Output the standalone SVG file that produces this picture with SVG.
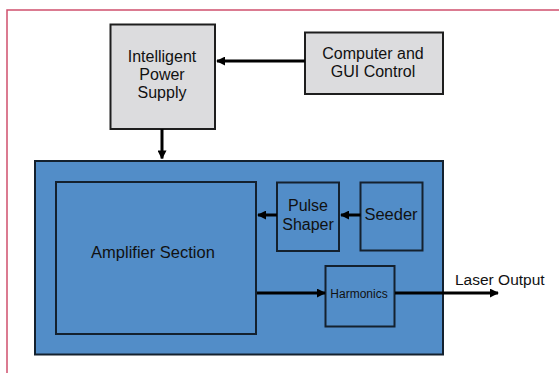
<svg xmlns="http://www.w3.org/2000/svg" width="559" height="373" viewBox="0 0 559 373">
<style>
.gray{fill:#dcdcde;stroke:#1e1e1e;stroke-width:2}
.blue{fill:#528dc8;stroke:#14212e;stroke-width:2}
.t{font-family:"Liberation Sans",Arial,sans-serif;font-size:16px;fill:#111;text-anchor:middle}
.s{font-size:12px}
.c{stroke:#000;stroke-width:3;fill:none}
</style>
<defs>
<marker id="ah" viewBox="0 0 10 10" refX="9" refY="5" markerWidth="3" markerHeight="3" orient="auto" markerUnits="strokeWidth">
<path d="M0,0 L10,5 L0,10 Z" fill="#000"/>
</marker>
</defs>
<rect width="559" height="373" fill="#fff"/>
<path d="M7,373 V10 H559" fill="none" stroke="#d0506e" stroke-width="1.5"/>
<g id="psu">
<rect class="gray" x="110.5" y="24.5" width="104.5" height="104.5"/>
<text class="t" x="162" y="62">Intelligent</text>
<text class="t" x="162" y="80">Power</text>
<text class="t" x="162" y="98">Supply</text>
</g>
<g id="computer">
<rect class="gray" x="305" y="32.5" width="138" height="61.5"/>
<text class="t" x="373" y="59">Computer and</text>
<text class="t" x="373" y="77">GUI Control</text>
</g>
<g id="laser">
<rect class="blue" x="35" y="161" width="408" height="193.5"/>
</g>
<g id="amplifier">
<rect class="blue" x="56" y="182" width="200" height="152"/>
<text class="t" x="153" y="258" style="font-size:16.5px">Amplifier Section</text>
</g>
<g id="pulse">
<rect class="blue" x="277" y="182.5" width="62" height="68.5"/>
<text class="t" x="308" y="211">Pulse</text>
<text class="t" x="308" y="230">Shaper</text>
</g>
<g id="seeder">
<rect class="blue" x="360.5" y="182.5" width="62" height="68"/>
<text class="t" x="391" y="220" style="font-size:16.5px">Seeder</text>
</g>
<g id="harmonics">
<rect class="blue" x="325.5" y="266" width="69" height="60.5"/>
<text class="t s" x="359" y="298">Harmonics</text>
</g>
<text class="t" x="455" y="285" style="text-anchor:start;font-size:15.5px">Laser Output</text>
<g id="connectors">
<line class="c" x1="305" y1="61" x2="217" y2="61" marker-end="url(#ah)"/>
<line class="c" x1="162" y1="129" x2="162" y2="158.5" marker-end="url(#ah)"/>
<line class="c" x1="277" y1="215" x2="258" y2="215" marker-end="url(#ah)"/>
<line class="c" x1="360.5" y1="215" x2="341" y2="215" marker-end="url(#ah)"/>
<line class="c" x1="257" y1="293" x2="325" y2="293" marker-end="url(#ah)"/>
<line class="c" x1="395" y1="293" x2="498" y2="293" marker-end="url(#ah)"/>
</g>
</svg>
